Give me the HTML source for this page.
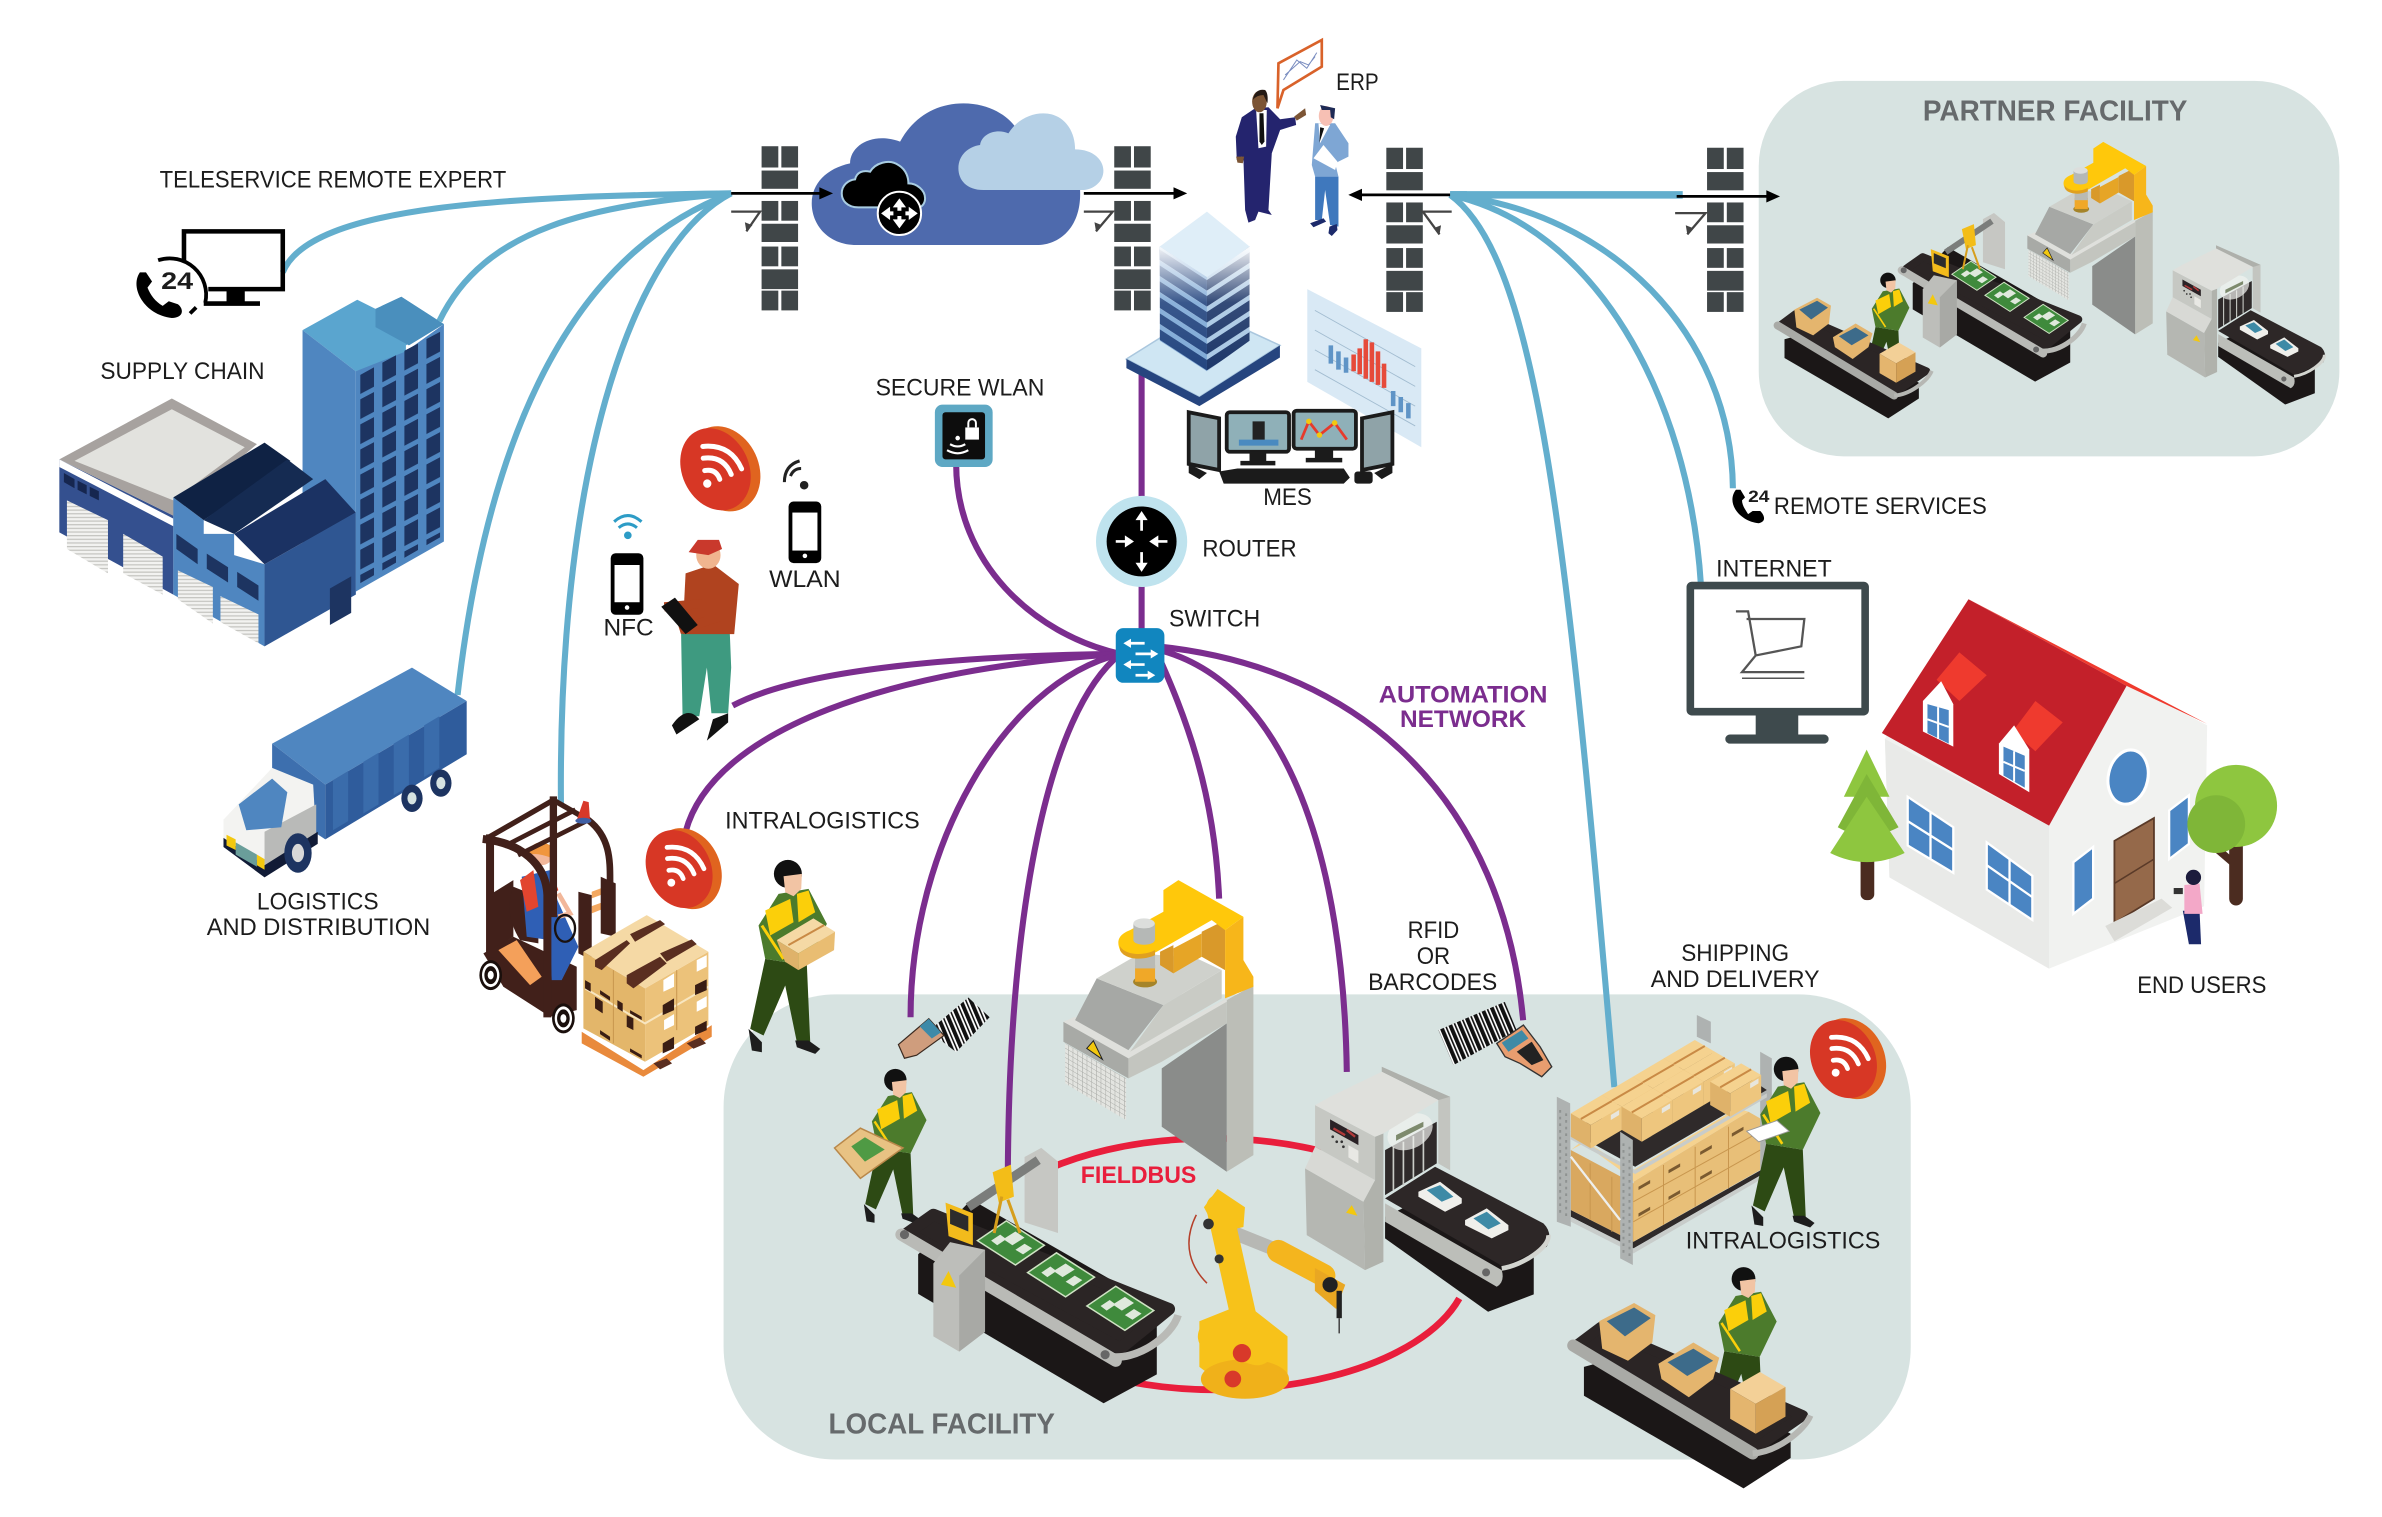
<!DOCTYPE html>
<html><head><meta charset="utf-8"><title>Industrial network</title>
<style>html,body{margin:0;padding:0;background:#fff}svg{display:block}
text{font-family:"Liberation Sans",sans-serif;font-size:16px;fill:#1c1c1c}
.b{font-weight:bold}</style></head><body>
<svg xmlns="http://www.w3.org/2000/svg" width="2382" height="1517" viewBox="0 0 1567 998">
<defs>
<pattern id="win" width="14.5" height="16.5" patternUnits="userSpaceOnUse" patternTransform="translate(238 247) skewY(-28)"><rect width="9" height="13" fill="#1d3461"/></pattern>
<pattern id="slatL" width="10" height="10.5" patternUnits="userSpaceOnUse" patternTransform="translate(764 165) skewY(33)"><rect width="10" height="7" fill="#23457f"/><rect y="7" width="10" height="3.5" fill="#7ea9d6"/></pattern>
<pattern id="slatR" width="10" height="10.5" patternUnits="userSpaceOnUse" patternTransform="translate(795 185) skewY(-33)"><rect width="10" height="7" fill="#1d3769"/><rect y="7" width="10" height="3.5" fill="#a9c8e4"/></pattern>
<pattern id="mesh" width="14" height="14" patternUnits="userSpaceOnUse" patternTransform="skewY(30)"><rect width="14" height="14" fill="#e3e4e0"/><path d="M0 0H14M0 0V14" stroke="#a5a7a3" stroke-width="3"/></pattern>
<pattern id="bar" width="6" height="6" patternUnits="userSpaceOnUse" patternTransform="rotate(-23)"><rect width="6" height="6" fill="#fff"/><rect width="2.6" height="6" fill="#111"/><rect x="3.8" width="1" height="6" fill="#111"/></pattern>
<pattern id="bar2" width="27" height="27" patternUnits="userSpaceOnUse" patternTransform="rotate(-23)"><rect width="27" height="27" fill="#fff"/><rect width="12" height="27" fill="#111"/><rect x="17" width="5" height="27" fill="#111"/></pattern>
<pattern id="shut" width="3" height="2.4" patternUnits="userSpaceOnUse"><rect width="3" height="2.4" fill="#f2f2f0"/><rect width="3" height=".8" fill="#c4c4c0"/></pattern>
<linearGradient id="fade" x1="0" y1="0" x2="0" y2="1"><stop offset="0" stop-color="#fff" stop-opacity=".95"/><stop offset=".45" stop-color="#fff" stop-opacity=".1"/><stop offset="1" stop-color="#fff" stop-opacity="0"/></linearGradient>

<g id="fw" fill="#404648"><rect y="0" width="11" height="14"/><rect x="13" width="11" height="14"/><rect y="16" width="24" height="12"/><rect y="36" width="11" height="13"/><rect x="13" y="36" width="11" height="13"/><rect y="51" width="24" height="12"/><rect y="66" width="11" height="13"/><rect x="13" y="66" width="11" height="13"/><rect y="81" width="24" height="13"/><rect y="95" width="11" height="13"/><rect x="13" y="95" width="11" height="13"/></g>

<g id="wb"><ellipse cx="4" cy="1" rx="23" ry="29" transform="rotate(-25)" fill="#e0641f"/><ellipse cx="-1" cy="-1" rx="22" ry="28" transform="rotate(-25)" fill="#d73725"/>
<g transform="translate(-1 -1) rotate(30) scale(.82)" fill="none" stroke="#fff" stroke-width="4" stroke-linecap="round"><path d="M-7 6Q0 0 7 6"/><path d="M-13 -2Q0 -12 13 -2"/><path d="M-18 -10Q0 -23 18 -10"/><circle cx="0" cy="14" r="2.600" fill="#fff" stroke-width="1.500"/></g></g>

<g id="worker"><g transform="scale(.2193) translate(-958 -300)">
<path d="M890 540L1015 560 1025 790 985 790 950 620 885 770 845 750Z" fill="#2d4a14"/>
<path d="M930 345L1020 330 1075 435 1015 560 890 540 870 440Z" fill="#4c7b2c"/>
<path d="M890 395L965 360 975 430 905 470ZM985 345L1020 335 1040 400 990 430Z" fill="#fbcf0a"/>
<path d="M880 440L945 540" stroke="#fbcf0a" stroke-width="9" fill="none"/>
<circle cx="958" cy="285" r="42" fill="#111"/><path d="M945 292L1000 285 998 330 975 352 950 340Z" fill="#f2c4a4"/>
<path d="M840 750L880 790 880 820 850 815ZM980 785L1020 785 1055 810 1040 825 985 805Z" fill="#1d1d1d"/></g></g>

<g id="boxsm"><path d="M-12 -6L2 -14 14 -7 0 1Z" fill="#f3d097"/><path d="M-12 -6L0 1 0 15-12 8Z" fill="#e4b56e"/><path d="M0 1L14 -7 14 7 0 15Z" fill="#d5a155"/></g>
<g id="pcb"><path d="M-21 -3L-2 -16 23 0 4 13Z" fill="#3f8a3c" stroke="#cfe3c4" stroke-width="1"/><path d="M-4 -4L4 -9 10 -5 2 0ZM4 3L10 -1 15 2 9 6ZM-12 -3L-6 -7-2-4-8 0Z" fill="#dfe9dc"/></g>

<g id="cb"><path d="M0 0L93 -55 153 -20 60 35Z" fill="#f5d28f"/><path d="M0 0L60 35V105L0 70Z" fill="#dfb26a"/><path d="M60 35L153 -20V50L60 105Z" fill="#eec67e"/><path d="M30 17L123 -37" stroke="#c98a45" stroke-width="6"/><path d="M120 5L145 -10V5L120 20Z" fill="#e8e6dd"/></g>

<g id="conv1">
<path d="M605 826V852L727 924 762 905V860L640 790Z" fill="#1b1717"/>
<path d="M615 800L770 862 738 888 598 812Z" fill="#2b2525" stroke="#2b2525" stroke-width="8" stroke-linejoin="round"/>
<path d="M594 813L735 896" stroke="#b9bab6" stroke-width="8" stroke-linecap="round"/>
<path d="M730 893C748 897 772 880 776 866" fill="none" stroke="#b9bab6" stroke-width="5"/>
<circle cx="596" cy="813" r="3" fill="#666"/><circle cx="728" cy="892" r="3" fill="#666"/>
<use href="#pcb" x="665" y="820"/><use href="#pcb" x="698" y="841"/><use href="#pcb" x="737" y="863"/>
<path d="M675 762L686 756 697 765V812L675 805Z" fill="#c6c7c3"/>
<path d="M638 795L684 764" stroke="#7b7d7b" stroke-width="6"/>
<path d="M654 772L666 767 668 788 658 792Z" fill="#f3bd18"/>
<path d="M660 788L655 812M664 790L672 812" stroke="#d69e1c" stroke-width="2"/>
<path d="M615 832L626 818 649 823V877L632 890 615 880Z" fill="#bdbeba"/><path d="M632 840L649 823V877L632 890Z" fill="#a8a9a5"/>
<path d="M623 792L641 799V820L625 814Z" fill="#f2bb1c"/><path d="M626 796L638 801V811L626 806Z" fill="#2c2c2c"/>
<path d="M620 846L625 837 630 848Z" fill="#f3c80f"/>
</g>

<!-- scanner in zoom coordinates -->
<g id="scan"><g transform="translate(684.2 572.4) scale(.2193)">
<path d="M1025 590L1230 680V900L1195 880V690L1025 605Z" fill="#aeb0ab"/>
<path d="M1035 1040V1105L1344 1325 1481 1273V1100L1200 960Z" fill="#1b1717"/>
<path d="M1035 985L1185 890 1510 1060Q1540 1090 1520 1130L1390 1190Z" fill="#2d2727"/>
<path d="M1035 1000L1385 1200Q1395 1235 1370 1250L1035 1055Z" fill="#bcbeb9"/>
<path d="M1385 1195C1450 1185 1530 1130 1525 1095" fill="none" stroke="#d3d5d0" stroke-width="14"/>
<circle cx="1338" cy="1207" r="12" fill="#666"/>
<path d="M1135 965L1200 935 1265 985 1265 1000 1215 1025 1135 980Z" fill="#efefeb"/><path d="M1160 960L1200 945 1240 980 1205 995Z" fill="#3e8aa6"/>
<path d="M1275 1050L1340 1015 1405 1065 1405 1080 1355 1105 1275 1065Z" fill="#efefeb"/><path d="M1300 1045L1340 1025 1382 1060 1345 1078Z" fill="#3e8aa6"/>
<path d="M1035 840L1190 755V880L1035 975Z" fill="#2f2a2a"/>
<path d="M1060 830V960M1090 815V945M1120 798V925M1150 780V905" stroke="#c9cbc6" stroke-width="5"/>
<ellipse cx="1110" cy="785" rx="72" ry="50" transform="rotate(-28 1110 785)" fill="#f1f2ef" opacity=".7"/>
<path d="M1068 795L1150 755V770L1068 812Z" fill="#7d8a6d"/>
<path d="M1195 690L1230 680V900L1195 880Z" fill="#c3c5c0"/>
<path d="M795 895L970 995 975 1200 800 1095Z" fill="#b5b7b2"/>
<path d="M825 830L1005 930 970 995 795 895Z" fill="#d8d9d5"/>
<path d="M825 705L1005 800V930L825 830Z" fill="#c6c8c3"/>
<path d="M1005 800L1030 790V1175L975 1200 970 995 1005 930Z" fill="#b0b2ac"/>
<path d="M870 680L1025 605 1195 690 1030 790 1005 800 825 705Z" fill="#dfe0dc"/>
<path d="M870 748L955 795V825L870 778Z" fill="#2a2226"/>
<path d="M880 775L915 795M920 780L945 800" stroke="#b23a3a" stroke-width="7"/>
<path d="M925 825L955 842V880L925 862Z" fill="#e8e8e4"/>
<circle cx="878" cy="800" r="4" fill="#333"/><circle cx="905" cy="815" r="4" fill="#333"/><circle cx="890" cy="815" r="4" fill="#333"/><circle cx="910" cy="830" r="4" fill="#333"/>
<path d="M918 1028L935 1005 952 1037Z" fill="#f3c80f"/>
</g></g>

<!-- gantry in zoom coordinates -->
<g id="gant"><g transform="translate(684.2 572.4) scale(.2193)">
<path d="M560 390L640 345V855L560 905Z" fill="#bcbeb7"/>
<path d="M365 595L560 460V905L365 770Z" fill="#8a8c8a"/>
<path d="M265 545L560 385V460L365 575 265 625Z" fill="#c3c5bf"/>
<path d="M70 455L265 560V625L70 515Z" fill="#a8aaa6"/>
<path d="M75 520L258 625V750L75 640Z" fill="url(#mesh)"/>
<path d="M70 455L105 440 265 540 560 385V395L265 565Z" fill="#dfe0dc"/>
<path d="M170 325L105 450 265 540 370 405Z" fill="#a6a8a5"/>
<path d="M370 405L545 300V385L270 545Z" fill="#c9cbc5"/>
<path d="M170 325L300 250 470 265 545 300 370 405Z" fill="#cfd1cc"/>
<path d="M140 535L160 512 187 568Z" fill="#f3c80f" stroke="#222" stroke-width="3"/>
<ellipse cx="315" cy="335" rx="36" ry="17" fill="#a58429"/><rect x="285" y="285" width="60" height="50" fill="#f0a828"/><rect x="285" y="255" width="60" height="40" fill="#b9bab4"/>
<path d="M400 235L485 190V260L400 310Z" fill="#e6a526"/><path d="M360 245L400 225V310L360 285Z" fill="#d9992a"/>
<path d="M485 185L555 150V300L485 260Z" fill="#d9992a"/>
<path d="M555 180L610 140V270L640 320V350L555 385Z" fill="#f7b61a"/>
<path d="M240 240C225 205 245 190 270 180L370 125V60L415 30 610 140 555 180 515 150 350 245C310 265 255 265 240 240Z" fill="#ffc80b"/>
<path d="M240 228C250 250 300 262 345 240V255C300 275 250 265 240 240Z" fill="#e0a020"/>
<rect x="280" y="160" width="65" height="50" fill="#b5b8b6"/><ellipse cx="312" cy="210" rx="32" ry="14" fill="#b5b8b6"/><ellipse cx="312" cy="160" rx="32" ry="15" fill="#dcdedc"/>
</g></g>

<g id="pack">
<path d="M1043 900V919L1148 980 1179 960V944L1080 890Z" fill="#1b1717"/>
<path d="M1054 874L1187 932 1154 955 1038 886Z" fill="#2b2525" stroke="#2b2525" stroke-width="7" stroke-linejoin="round"/>
<path d="M1036 886L1154 957" stroke="#a9aaa6" stroke-width="8" stroke-linecap="round"/>
<path d="M1154 957C1170 956 1188 942 1192 932" fill="none" stroke="#b6b7b3" stroke-width="4"/>
<path d="M1053 870L1076 858 1090 866 1088 884 1072 896 1055 888Z" fill="#e4b56e"/><path d="M1058 870L1076 861 1087 868 1070 880Z" fill="#3d6b8a"/>
<path d="M1092 898L1115 884 1132 894 1128 908 1112 920 1094 908Z" fill="#e4b56e"/><path d="M1098 897L1115 888 1128 896 1111 906Z" fill="#3d6b8a"/>
<use href="#boxsm" transform="translate(1156 923) scale(1.4)"/>
</g>
</defs>

<rect width="1567" height="998" fill="#fff"/>
<g transform="translate(-1 -.8)">
<rect x="1158" y="54" width="382" height="247" rx="56" fill="#d7e3e1"/>
<rect x="477" y="655" width="781" height="306" rx="74" fill="#d7e3e1"/>

<!-- red ring -->
<g fill="none" stroke="#e91e3c" stroke-width="4.400"><path d="M690 770A165 83 0 0 1 870 758"/><path d="M961 855A165 83 0 0 1 745 910"/></g>

<!-- blue links -->
<g fill="none" stroke="#63aecd" stroke-width="4">
<path d="M482 128C340 130 205 135 187 180"/>
<path d="M482 128C390 136 320 150 290 212"/>
<path d="M482 128C370 170 320 300 302 458"/>
<path d="M482 128C420 160 368 300 370 530"/>
<path d="M955 129C1012 170 1032 350 1063 716"/>
<path d="M955 129C1050 150 1112 260 1120 386"/>
<path d="M955 129C1060 140 1140 220 1141 322"/>
<path d="M955 129H1108" stroke-width="5"/>
</g>
<!-- purple links -->
<g fill="none" stroke="#7b2d8e" stroke-width="4">
<path d="M630 306C630 370 680 418 738 431"/>
<path d="M483 465C530 440 640 432 738 431"/>
<path d="M452 548C470 480 590 440 738 431"/>
<path d="M600 670C600 560 660 450 738 431"/>
<path d="M664 772C665 600 690 470 738 431"/>
<path d="M803 592C800 520 780 470 762 430"/>
<path d="M887 706C885 570 850 450 762 428"/>
<path d="M1003 672C990 530 900 440 762 426"/>
<path d="M752 245V415"/>
</g>

<!-- firewalls and arrows -->
<use href="#fw" x="502" y="97"/><use href="#fw" x="734" y="97"/><use href="#fw" x="913" y="98"/><use href="#fw" x="1124" y="98"/>

<!-- cloud -->
<g transform="translate(501 66.600) scale(.2193)">
<path d="M290 435C200 435 155 370 155 310 155 250 200 205 270 190 270 135 340 95 420 125 460 50 530 10 610 10 690 10 745 50 765 80L960 270C965 380 900 435 830 435Z" fill="#4e6aad"/>
<path d="M670 270C620 270 595 240 595 205 595 165 625 140 660 135 665 100 710 85 745 100 770 60 810 40 850 40 910 40 945 90 945 148 1000 148 1030 180 1030 212 1030 245 1000 270 965 270Z" fill="#b5d0e6"/>
<path d="M295 322C260 322 245 300 245 280 245 255 265 240 285 238 290 215 310 210 330 215 345 190 385 175 415 195 440 210 445 235 445 250 470 250 495 270 495 295 495 310 485 322 475 322Z" fill="#000" stroke="#a9cde2" stroke-width="6"/>
<circle cx="418" cy="340" r="65" fill="#000" stroke="#fff" stroke-width="6"/>
<path d="M418 295L398 322H412V332H424V322H438ZM418 385L398 358H412V348H424V358H438ZM363 340L390 320V334H400V346H390V360ZM473 340L446 320V334H436V346H446V360Z" fill="#fff"/>
</g>

<g fill="none" stroke="#000" stroke-width="1.800">
<path d="M482 128H543"/><path d="M714 128H776"/><path d="M955 129H895"/><path d="M1104 130H1166"/></g>
<path d="M549 128L540 124V132ZM782 128L773 124V132ZM888 129L897 125V133ZM1172 130L1163 126V134Z" fill="#000"/>
<g fill="none" stroke="#444" stroke-width="1.500"><path d="M482 140H501L492 153"/><path d="M714 140H733L722 153"/><path d="M956 140H937L948 155"/><path d="M1103 141H1123L1111 155"/></g>
<path d="M492 153L491 147 496 149ZM722 153L721 147 726 149ZM948 155L949 149 944 151ZM1111 155L1110 149 1115 151Z" fill="#444"/>
<path d="M955 129H966" stroke="#63aecd" stroke-width="5"/>

<!-- teleservice icon -->
<path d="M122 173V153H187V191H138" fill="none" stroke="#000" stroke-width="3"/>
<path d="M150 192H162V199H172V202H135V199H150Z" fill="#000"/>
<path d="M105 172A24 24 0 0 1 136 200M130 203L126 207" fill="none" stroke="#000" stroke-width="2.500"/>
<text x="107" y="191" class="b" textLength="21" lengthAdjust="spacingAndGlyphs" style="font-size:16px">24</text>
<path d="M93 180C86 190 96 208 114 210 122 210 122 204 118 201L112 199 108 202C103 199 100 195 98 190L101 186 97 180Z" fill="#000"/>

<!-- tower -->
<path d="M200 218L236 198 248 204 265 196 293 214 268 228 268 235 235 245Z" fill="#5aa5cf"/>
<path d="M248 204L265 196 293 214 270 228 248 216Z" fill="#4a8fbd"/>
<path d="M200 218L235 245V392L200 370Z" fill="#4f86c0"/>
<path d="M235 245L268 232 293 214V357L235 390Z" fill="#4f86c0"/>
<path d="M237 248L291 218V354L237 385Z" fill="url(#win)"/>
<!-- warehouse -->
<path d="M40 303L115 340V392L40 351Z" fill="#34508f"/>
<path d="M40 303L114 263 170 293 115 340Z" fill="#a7a29f"/>
<path d="M50 304L114 270 162 295 115 330Z" fill="#e2e2de"/>
<path d="M40 303L115 342 115 347 40 308Z" fill="#fff"/>
<path d="M45 330L72 343V378L45 362ZM82 352L108 367V392L82 378Z" fill="url(#shut)"/>
<path d="M43 312L50 316V322L43 318ZM52 317L58 320V326L52 323ZM60 321L66 324V330L60 327Z" fill="#16264f"/>
<path d="M115 328L135 343V352L155 352V366L175 372V426L115 392Z" fill="#4f86c0"/>
<path d="M118 376L141 387V411L118 395ZM146 393L171 405V424L146 410Z" fill="url(#shut)"/>
<path d="M117 352L131 362V372L117 362ZM137 365L151 374V384L137 375ZM157 377L171 386V396L157 387Z" fill="#1d3461"/>
<path d="M175 372L235 338V392L175 426Z" fill="#2f5692"/>
<path d="M218 388L232 380V404L218 412Z" fill="#1d3461"/>
<path d="M115 328L175 292 192 304 135 343Z" fill="#0f2244"/>
<path d="M135 343L190 303 207 316 155 352Z" fill="#152b52"/>
<path d="M155 352L215 316 235 338 175 372Z" fill="#1b3263"/>

<!-- truck -->
<path d="M180 490L272 440 308 462 215 517Z" fill="#4f86c0"/>
<path d="M180 490L215 517V553L180 530Z" fill="#3d6fae"/>
<path d="M215 517L308 462V497L215 553Z" fill="#2f5c9c"/>
<path d="M220 514L230 508V541L220 547ZM240 502L250 496V530L240 536ZM260 490L270 484V518L260 524ZM280 478L290 472V506L280 512Z" fill="#3a6cab"/>
<ellipse cx="272" cy="526" rx="7" ry="9" fill="#1d3461"/><ellipse cx="272" cy="526" rx="3" ry="4" fill="#d7e3e1"/><ellipse cx="291" cy="516" rx="7" ry="9" fill="#1d3461"/><ellipse cx="291" cy="516" rx="3" ry="4" fill="#d7e3e1"/>
<path d="M148 540L180 506 207 517 209 552 175 576 148 556Z" fill="#f3f3f1"/>
<path d="M175 548L209 530V552L175 576Z" fill="#b9bab8"/>
<path d="M158 530L180 513 190 522 186 545 163 547Z" fill="#4f86c0"/>
<path d="M148 552L175 570 210 548 210 556 175 578 148 558Z" fill="#111b36"/>
<path d="M156 555L170 563V571L156 563Z" fill="#6a9e9a"/><path d="M150 550L156 553V560L150 557ZM170 563L175 566V573L170 570Z" fill="#f3c80f"/>
<ellipse cx="197" cy="562" rx="9" ry="13" fill="#1d3461"/><ellipse cx="197" cy="562" rx="4" ry="6" fill="#d8d8d8"/>

<!-- forklift and worker, zoom coordinates -->
<g transform="translate(310.200 514) scale(.2193)">
<path d="M50 350L130 300V470L50 520Z" fill="#41201a"/>
<path d="M40 520L130 470 320 560V690L240 710 100 620Z" fill="#41201a"/>
<path d="M85 510L140 480 215 590 180 615Z" fill="#f4a05a"/>
<path d="M130 320Q100 400 150 480L205 490V350Z" fill="#41201a"/>
<path d="M155 290L240 270 262 360 325 500 275 600 245 600 240 480 170 470Z" fill="#2f5fb5"/>
<path d="M150 300L190 270 205 380 170 395ZM240 265L265 330 245 345Z" fill="#e2452f"/>
<path d="M265 340L300 400 265 410" fill="none" stroke="#f2b79a" stroke-width="14"/>
<ellipse cx="215" cy="225" rx="33" ry="30" fill="#f2b79a"/><path d="M170 225Q190 170 240 195L248 235Q200 215 170 225Z" fill="#f0963e"/>
<g fill="none" stroke="#1a1210" stroke-width="7"><ellipse cx="285" cy="445" rx="30" ry="40"/></g>
<g fill="none" stroke="#41201a" stroke-linecap="square">
<path d="M60 175V520" stroke-width="24"/>
<path d="M50 175L250 60 355 120" stroke-width="16"/>
<path d="M110 195L310 92M150 222L345 125" stroke-width="14"/>
<path d="M250 60V400" stroke-width="22"/>
<path d="M50 178C150 190 228 250 232 345V700" stroke-width="24"/>
<path d="M355 120C420 170 420 240 420 300" stroke-width="20"/></g>
<path d="M365 335L410 318V338L365 355ZM365 378L410 362V382L365 400Z" fill="#f4a860"/>
<path d="M325 335L365 345V540L325 520ZM392 290L437 310V470L392 460Z" fill="#41201a"/>
<path d="M320 120L340 62 356 66 360 120Q340 132 320 120Z" fill="#d8392a"/><ellipse cx="340" cy="122" rx="24" ry="9" fill="#3f5fa5"/>
<g><ellipse cx="62" cy="585" rx="34" ry="45" fill="#1a0f0c"/><ellipse cx="62" cy="585" rx="26" ry="36" fill="#fff"/><ellipse cx="62" cy="585" rx="19" ry="27" fill="#1a0f0c"/><ellipse cx="62" cy="585" rx="9" ry="13" fill="#fff"/></g>
<g><ellipse cx="280" cy="715" rx="34" ry="45" fill="#1a0f0c"/><ellipse cx="280" cy="715" rx="26" ry="36" fill="#fff"/><ellipse cx="280" cy="715" rx="19" ry="27" fill="#1a0f0c"/><ellipse cx="280" cy="715" rx="9" ry="13" fill="#fff"/></g>
<!-- pallet -->
<path d="M335 755L520 870 725 735V770L520 890 335 790Z" fill="#e98a3c"/>
<path d="M550 850L590 835 606 850 570 868ZM650 790L690 772 708 790 670 806Z" fill="#5a2e20"/>
<path d="M340 515L525 625V845L340 745Z" fill="#e3b66a"/>
<path d="M525 625L715 515V735L525 845Z" fill="#ecc27a"/>
<path d="M340 515L530 405 715 515 525 625Z" fill="#f5d9a5"/>
<path d="M345 625L525 730 715 620" fill="none" stroke="#f8e6c0" stroke-width="6"/>
<path d="M430 570V790M620 570V750" stroke="#c8964e" stroke-width="3"/>
<path d="M375 540L470 480 480 490 395 570 375 560ZM470 585L570 530 590 550 490 625 470 610ZM480 462L570 420 585 432 495 485ZM570 520L665 478 680 492 590 545Z" fill="#5a2e20"/>
<path d="M580 600L612 580V620L580 635ZM680 540L710 525V560L680 575ZM582 720L612 702V735L582 750ZM680 665L710 648V680L680 695Z" fill="#fff"/>
<path d="M578 675L612 655V690L578 705ZM675 615L710 598V630L675 645ZM578 790L612 770V805L578 820ZM675 740L710 722V750L675 765Z" fill="#3a1d14"/>
<path d="M375 650L398 665V700L375 685ZM442 660L458 670V695L442 685ZM470 705L490 715V750L470 740ZM345 600L362 610V635L345 625ZM390 630L420 650V662L390 642ZM390 750L420 770V782L390 762ZM480 690L515 710V720L480 700ZM480 805L515 825V835L480 815Z" fill="#3a1d14"/>
</g>

<!-- wifi badges -->
<use href="#wb" x="473" y="310"/><use href="#wb" transform="translate(449 573) scale(.95)"/><use href="#wb" transform="translate(1215 698) scale(.95)"/>

<!-- phones + wifi -->
<rect x="404" y="366" width="19" height="38" rx="2" fill="#fff" stroke="#000" stroke-width="2.500"/><rect x="404" y="372" width="19" height="26" fill="none" stroke="#000" stroke-width="1"/><rect x="404" y="397" width="19" height="7" fill="#000"/><circle cx="413.500" cy="400.500" r="1.500" fill="#fff"/><rect x="404" y="366" width="19" height="6" fill="#000"/>
<rect x="521" y="332" width="19" height="38" rx="2" fill="#fff" stroke="#000" stroke-width="2.500"/><rect x="521" y="363" width="19" height="7" fill="#000"/><circle cx="530.500" cy="366.500" r="1.500" fill="#fff"/><rect x="521" y="332" width="19" height="6" fill="#000"/>
<g fill="none" stroke="#2d9cc6" stroke-width="2"><path d="M408 348Q414 343 420 348"/><path d="M405 344Q414 336 423 344"/><circle cx="414" cy="353" r="1.500" fill="#2d9cc6"/></g>
<g fill="none" stroke="#222" stroke-width="2"><path d="M521 314Q523 309 528 309"/><path d="M517 318Q517 307 527 304"/><circle cx="530" cy="320" r="1.800" fill="#222"/></g>

<!-- red cap worker -->
<path d="M449 415L481 415 482 440 480 470H469L466 440 461 472H450Z" fill="#3e9a80"/>
<path d="M452 378L470 372 487 385 484 418H450Z" fill="#b0431f"/>
<path d="M438 400L462 398 470 408 448 415" fill="none" stroke="#b0431f" stroke-width="6"/>
<ellipse cx="467" cy="366" rx="8" ry="9" fill="#f0b58f"/><path d="M454 364L460 356H474L476 362 467 366Z" fill="#c9392c"/>
<path d="M436 400L445 394 460 412 452 418Z" fill="#111"/>
<path d="M443 478C450 468 456 468 461 474L446 484ZM466 488L480 476V470L470 474Z" fill="#111"/>

<!-- secure wlan -->
<rect x="616" y="267" width="38" height="41" rx="5" fill="#5ea8c4"/><rect x="621" y="272" width="28" height="31" rx="2" fill="#0d0d0d"/>
<rect x="636" y="282" width="9" height="8" fill="#fff"/><path d="M638 282V279A2.500 2.500 0 0 1 643 279V282" fill="none" stroke="#fff" stroke-width="1.300"/>
<path d="M624 297Q631 301 638 297M626 293Q631 296 636 293" fill="none" stroke="#fff" stroke-width="1.400"/><circle cx="631" cy="289" r="1.500" fill="#fff"/>

<!-- server -->
<path d="M742 237L793 205 843 228 790 262Z" fill="#cfe6f3" stroke="#aac7de" stroke-width="1"/>
<path d="M742 237L790 262 843 228V236L790 268 742 243Z" fill="#26457f"/>
<path d="M764 163L795 183V245L764 225Z" fill="url(#slatL)"/>
<path d="M795 183L823 163V225L795 245Z" fill="url(#slatR)"/>
<path d="M764 163L795 183V245L764 225ZM795 183L823 163V225L795 245Z" fill="url(#fade)"/>
<path d="M764 163L795 140 823 163 795 183Z" fill="#dfeef8"/>

<!-- chart -->
<path d="M861 191L936 230V295L861 252Z" fill="#d9e9f5"/>
<g stroke="#a2bcd0" stroke-width=".6"><path d="M866 205L932 242M866 218L932 255M866 231L932 268M866 244L932 281"/></g>
<path d="M875 228H878V240H875ZM880 232H883V244H880ZM885 236H888V246H885ZM916 258H919V268H916ZM921 262H924V272H921ZM926 266H929V276H926Z" fill="#5f94c6"/>
<path d="M890 234H893V245H890ZM894 230H897V247H894ZM898 224H901V250H898ZM902 226H905V252H902ZM906 232H909V254H906ZM910 240H913V256H910Z" fill="#e64a3a"/>

<!-- monitors -->
<path d="M783 272L803 276V310L783 306Z" fill="#8fa3a8" stroke="#1b1b1b" stroke-width="2.500"/>
<path d="M897 276L917 272V306L897 310Z" fill="#8fa3a8" stroke="#1b1b1b" stroke-width="2.500"/>
<rect x="808" y="272" width="41" height="26" rx="2" fill="#8fb0b8" stroke="#1b1b1b" stroke-width="2.500"/>
<rect x="852" y="271" width="41" height="25" rx="2" fill="#8fb0b8" stroke="#1b1b1b" stroke-width="2.500"/>
<path d="M823 298H834V304H840V307H817V304H823ZM866 296H878V302H884V305H860V302H866Z" fill="#1b1b1b"/>
<path d="M816 290H842V294H816Z" fill="#4a8ac0"/><path d="M825 278H833V290H825Z" fill="#222"/>
<path d="M857 290L862 278 869 287 879 279 887 290" fill="none" stroke="#e63a2c" stroke-width="1.800"/>
<circle cx="862" cy="278" r="1.800" fill="#f3c80f"/><circle cx="869" cy="287" r="1.800" fill="#f3c80f"/><circle cx="879" cy="279" r="1.800" fill="#f3c80f"/>
<path d="M803 311L815 309H885L889 315 885 319H806Z" fill="#1b1b1b"/><rect x="892" y="311" width="12" height="8" rx="2" fill="#1b1b1b"/>
<path d="M783 306L795 312 790 316 783 312ZM917 306L905 312 910 316 917 312Z" fill="#1b1b1b"/>

<!-- ERP people, zoom coordinates -->
<g transform="translate(790.500 20.500) scale(.2193)">
<path d="M235 100L365 30V110L250 180 232 235Z" fill="#fff" stroke="#d9622a" stroke-width="8"/>
<path d="M250 150L290 90 320 115 350 68M255 135L300 95 325 105 345 80" fill="none" stroke="#7a8dc0" stroke-width="3"/>
<path d="M165 235L205 232 240 268 285 262 288 285 240 300 215 370 205 540 215 555 175 545 165 570 145 578 135 540 130 390 125 380 110 390 107 320 125 262Z" fill="#24246e"/>
<path d="M168 240L200 240 198 350 175 355Z" fill="#fff"/><path d="M178 250L190 250 193 335 185 345 178 335Z" fill="#111"/>
<ellipse cx="178" cy="215" rx="22" ry="32" fill="#7c5535"/><path d="M158 210Q165 175 195 180 205 190 202 220L190 195Q170 195 158 210Z" fill="#241a15"/>
<path d="M282 260L315 235 318 255 290 272ZM108 380L132 380 128 400 112 398Z" fill="#7c5535"/>
<path d="M345 280L405 280 445 340 445 380 405 400 415 440 345 440 335 405Z" fill="#7ea6d4"/>
<path d="M345 440L415 440 415 590 390 585 375 480 365 570 345 570Z" fill="#3f78bd"/>
<path d="M330 580L370 565 378 575 340 592ZM388 590L410 582 412 600 395 618 385 610Z" fill="#1c2a6b"/>
<path d="M355 280L390 285 360 340Z" fill="#fff"/><path d="M360 292L372 295 358 338Z" fill="#111"/>
<ellipse cx="378" cy="258" rx="22" ry="30" fill="#f7c0b4"/><path d="M360 225L405 235 402 268 392 262 390 240 365 240Z" fill="#1e2a55"/>
<path d="M340 385L370 345 412 395 405 420Z" fill="#fff"/>
</g>

<!-- router, switch -->
<circle cx="752" cy="357" r="30" fill="#bfe3ee"/><circle cx="752" cy="357" r="23" fill="#000"/>
<g stroke="#fff" stroke-width="1.800" fill="none"><path d="M752 340V350M752 364V374M735 357H745M759 357H769"/></g>
<path d="M752 337L748 343H756ZM752 377L748 371H756ZM747 357L741 353V361ZM757 357L763 353V361Z" fill="#fff"/>
<rect x="735" y="414" width="32" height="36" rx="5" fill="#1186bf"/>
<g stroke="#fff" stroke-width="1.800"><path d="M742 424H754M748 431H761M742 438H754M748 445H759"/></g>
<path d="M740 424L745 421V427ZM763 431L758 428V434ZM740 438L745 435V441ZM761 445L756 442V448Z" fill="#fff"/>

<!-- internet monitor -->
<rect x="1113" y="386" width="115" height="83" fill="#fff" stroke="#3e4a4d" stroke-width="5" rx="1"/>
<path d="M1156 471H1184V485H1156Z" fill="#3e4a4d"/><rect x="1136" y="484" width="68" height="6" rx="3" fill="#3e4a4d"/>
<path d="M1143 403H1151L1156 432 1186 426 1188 408H1150M1156 432L1147 443H1188" fill="none" stroke="#555" stroke-width="1.500"/><path d="M1147 447H1188" stroke="#555"/>

<!-- remote services icon -->
<path d="M1143 323C1136 332 1146 344 1158 345 1163 344 1162 340 1159 337L1154 337 1151 339C1149 336 1147 333 1147 330L1149 328 1146 323Z" fill="#000"/>
<text x="1151" y="331" class="b" textLength="14" lengthAdjust="spacingAndGlyphs" style="font-size:11px">24</text>

<!-- house -->
<path d="M1296 395L1453 478 1451 597 1349 638 1244 578 1241 487Z" fill="#f1f2f0"/>
<path d="M1241 487L1349 544V638L1244 578Z" fill="#e9eae8"/>
<path d="M1296 395L1453 477 1400 452Z" fill="#ef3a2e"/>
<path d="M1296 395L1400 452 1349 544 1239 483Z" fill="#c3202a"/>
<path d="M1275 448L1290 430 1308 445 1290 462Z" fill="#ef3a2e"/><path d="M1325 482L1340 462 1358 476 1340 495Z" fill="#ef3a2e"/>
<path d="M1266 462L1278 449 1286 464V492L1266 482Z" fill="#fff"/>
<path d="M1269 464L1283 468V490L1269 483Z" fill="#4a85c3"/><path d="M1276 466V487M1269 474L1283 479" stroke="#fff" stroke-width="1.300"/>
<path d="M1316 490L1326 478 1336 494V522L1316 510Z" fill="#fff"/>
<path d="M1319 492L1333 498V519L1319 511Z" fill="#4a85c3"/><path d="M1326 495V515M1319 502L1333 508" stroke="#fff" stroke-width="1.300"/>
<ellipse cx="1401" cy="512" rx="13" ry="18" transform="rotate(12 1401 512)" fill="#4a85c3" stroke="#fff" stroke-width="2"/>
<g fill="#4a85c3" stroke="#fff" stroke-width="1.500"><path d="M1256 525L1286 545V575L1256 557Z"/><path d="M1308 555L1338 577V606L1308 586Z"/><path d="M1365 568L1378 558V592L1365 602Z"/><path d="M1428 534L1441 524V556L1428 566Z"/></g>
<path d="M1271 535V566M1256 541L1286 560M1323 566V596M1308 570L1338 591" stroke="#fff" stroke-width="1.500"/>
<path d="M1392 554L1418 539V592L1392 608Z" fill="#95694a" stroke="#5a3a28" stroke-width="1.200"/><path d="M1392 582L1418 566" stroke="#5a3a28"/>
<path d="M1386 610L1423 592 1430 598 1392 620Z" fill="#dcdcd8"/>
<!-- trees -->
<rect x="1225" y="560" width="9" height="33" rx="4" fill="#4b2c20"/>
<path d="M1229 494L1244 525H1214Z" fill="#8ec63f"/><path d="M1229 510L1250 545Q1229 556 1210 545Z" fill="#7fb638"/><path d="M1229 525L1254 562Q1229 574 1205 562Z" fill="#8ec63f"/>
<path d="M1472 545V592" stroke="#4b2c20" stroke-width="9" stroke-linecap="round"/><path d="M1472 570L1458 558" stroke="#4b2c20" stroke-width="5"/>
<circle cx="1472" cy="531" r="27" fill="#8ec63f"/><circle cx="1459" cy="543" r="19" fill="#7fb638"/>
<!-- woman -->
<path d="M1437 600L1448 600 1449 622H1441Z" fill="#1c2a6b"/><path d="M1438 583L1448 582 1450 602H1438Z" fill="#f3a8c8"/><circle cx="1444" cy="578" r="5" fill="#1c1c3c"/><rect x="1431" y="585" width="6" height="4" fill="#333"/>

<!-- local facility machinery -->
<use href="#worker" transform="translate(590 714) scale(.8)"/>
<path d="M550 756L567 743 595 756 567 776Z" fill="#e8c283" stroke="#b9884a"/><path d="M561 755L570 749 583 757 570 765Z" fill="#4f9a44"/>
<use href="#worker" transform="translate(519.300 579)"/>
<g transform="translate(310.200 514) scale(.2193)"><path d="M920 480L1030 415 1095 455 985 520Z" fill="#f5d9a5"/><path d="M920 480L985 520V570L945 545Z" fill="#dfb26a"/><path d="M985 520L1095 455 1092 510 985 570Z" fill="#e9bd72"/><path d="M955 495L1062 435" stroke="#c98a45" stroke-width="6"/></g>

<use href="#conv1"/>
<use href="#gant" x="1" y=".8"/>
<use href="#scan" x="1" y=".8"/>

<!-- robot arm -->
<path d="M790 870L820 858 848 880V905L818 921 790 900Z" fill="#f7c21a"/>
<ellipse cx="820" cy="908" rx="29" ry="13" fill="#f0b11a"/>
<g fill="none" stroke-linecap="round" stroke-linejoin="round">
<path d="M808 810L848 826" stroke="#b7b8b4" stroke-width="9"/>
<path d="M842 824L872 840" stroke="#f4b51e" stroke-width="15"/>
<path d="M822 880L803 795" stroke="#f7c21a" stroke-width="17"/>
<path d="M800 880L828 888" stroke="#f7c21a" stroke-width="22"/></g>
<path d="M793 795L802 783 820 795 819 808 802 812Z" fill="#f7c21a"/>
<path d="M866 835L886 846 880 862 866 850Z" fill="#e9a722"/><circle cx="876" cy="846" r="5" fill="#222"/>
<path d="M882 850V868" stroke="#222" stroke-width="3.500"/><path d="M882 868V878" stroke="#444"/>
<circle cx="818" cy="891" r="6" fill="#d8392a"/><circle cx="812" cy="908" r="5.500" fill="#d8392a"/><circle cx="796" cy="806" r="3.500" fill="#333"/><circle cx="803" cy="829" r="3" fill="#333"/>
<path d="M788 800C778 820 785 835 795 845" fill="none" stroke="#b5402a"/>

<!-- barcodes -->
<path d="M612 679L638 657 652 670 630 693Z" fill="url(#bar)"/>
<path d="M592 688L612 671 622 682 604 695 596 697Z" fill="#cf9d7d" stroke="#3b2a20" stroke-width=".8"/><path d="M606 676L612 671 620 680 614 684Z" fill="#3d8aa8"/>
<g transform="translate(685.200 573.200) scale(.2193)">
<path d="M1195 480L1395 395 1430 480 1240 585Z" fill="url(#bar2)"/>
<path d="M1370 520L1450 465 1500 530 1535 590 1505 620 1440 580 1395 560Z" fill="#e89d6f" stroke="#333" stroke-width="4"/>
<path d="M1385 518L1445 480 1465 505 1405 545Z" fill="#3e8aa6"/><path d="M1430 545L1475 515 1510 570 1475 585Z" fill="#222"/>
</g>

<!-- shelf, zoom coordinates -->
<g transform="translate(1014.200 658.700) scale(.2193)">
<path d="M470 45L512 65V130L470 110ZM660 155L695 175V510L660 520Z" fill="#aeb2b1"/>
<path d="M92 630L280 725 680 500V515L280 745 92 650Z" fill="#2f2a2a"/>
<path d="M92 650L280 745 680 515V528L280 760 92 665Z" fill="#c8ccca"/>
<path d="M92 450L280 550V725L92 630Z" fill="#d9a85f"/>
<path d="M280 545L625 335 660 355V510L280 725Z" fill="#e8bf78"/>
<path d="M92 450L130 430 240 510 280 545 625 335 590 325 280 510 240 490 130 420Z" fill="#f5d28f"/>
<path d="M280 605L660 395M280 665L660 450M370 495V675M465 440V620M565 380V565M150 490V660M215 530V695" stroke="#c8964e" stroke-width="3" fill="none"/>
<path d="M295 560L330 540V550L295 570ZM385 510L420 490V500L385 520ZM480 455L515 435V445L480 465ZM575 400L610 380V390L575 410ZM295 640L330 620V630L295 650ZM385 590L420 570V580L385 600ZM480 530L515 510V520L480 540Z" fill="#7a5a30"/>
<path d="M92 395L285 500 680 270 500 150Z" fill="#2f2a2a"/>
<path d="M92 405L285 510 680 280V292L285 522 92 418Z" fill="#c8ccca"/>
<use href="#cb" x="371" y="175"/><use href="#cb" x="278" y="230"/><use href="#cb" x="185" y="285"/><use href="#cb" x="92" y="340"/>
<use href="#cb" x="431" y="210"/><use href="#cb" x="338" y="265"/><use href="#cb" x="245" y="320"/>
<use href="#cb" x="510" y="245"/>
<path d="M50 290L90 310 92 680 50 665ZM240 395L278 420V795L240 775Z" fill="#aeb2b1"/>
<path d="M92 470L240 660" stroke="#eeefed" stroke-width="7"/>
<path d="M60 330V650M78 340V660M250 430V760M268 440V770" stroke="#8f9392" stroke-width="6" stroke-dasharray="8 12"/>
</g>

<use href="#worker" transform="translate(1176 707) scale(.88)"/>
<path d="M1150 745L1170 738 1178 745 1158 752Z" fill="#fff" stroke="#999" stroke-width=".6"/>
<use href="#worker" transform="translate(1148 845) scale(.85)"/>
<use href="#pack"/>

<!-- partner facility machinery -->
<use href="#gant" transform="translate(873 -288) scale(.66)"/>
<use href="#conv1" transform="translate(860 -358) scale(.66)"/>
<use href="#worker" transform="translate(1243 187) scale(.55)"/>
<use href="#pack" transform="translate(497 -361) scale(.65)"/>
<use href="#scan" transform="translate(868 -294) scale(.65)"/>

<!-- labels -->
<text x="106" y="124" textLength="228" lengthAdjust="spacingAndGlyphs">TELESERVICE REMOTE EXPERT</text>
<text x="67" y="250" textLength="108" lengthAdjust="spacingAndGlyphs">SUPPLY CHAIN</text>
<text x="577" y="261" textLength="111" lengthAdjust="spacingAndGlyphs">SECURE WLAN</text>
<text x="880" y="60" textLength="28" lengthAdjust="spacingAndGlyphs">ERP</text>
<text x="1266" y="80" class="b" textLength="174" lengthAdjust="spacingAndGlyphs" style="font-size:19px;fill:#666a6c">PARTNER FACILITY</text>
<text x="832" y="333" textLength="32" lengthAdjust="spacingAndGlyphs">MES</text>
<text x="792" y="367" textLength="62" lengthAdjust="spacingAndGlyphs">ROUTER</text>
<text x="770" y="413" textLength="60" lengthAdjust="spacingAndGlyphs">SWITCH</text>
<text x="1168" y="339" textLength="140" lengthAdjust="spacingAndGlyphs">REMOTE SERVICES</text>
<text x="1130" y="380" textLength="76" lengthAdjust="spacingAndGlyphs">INTERNET</text>
<text x="398" y="419" textLength="33" lengthAdjust="spacingAndGlyphs">NFC</text>
<text x="507" y="387" textLength="47" lengthAdjust="spacingAndGlyphs">WLAN</text>
<text x="908" y="463" class="b" textLength="111" lengthAdjust="spacingAndGlyphs" style="fill:#7b2d8e">AUTOMATION</text>
<text x="922" y="479" class="b" textLength="83" lengthAdjust="spacingAndGlyphs" style="fill:#7b2d8e">NETWORK</text>
<text x="170" y="599" textLength="80" lengthAdjust="spacingAndGlyphs">LOGISTICS</text>
<text x="137" y="616" textLength="147" lengthAdjust="spacingAndGlyphs">AND DISTRIBUTION</text>
<text x="478" y="546" textLength="128" lengthAdjust="spacingAndGlyphs">INTRALOGISTICS</text>
<text x="927" y="618" textLength="34" lengthAdjust="spacingAndGlyphs">RFID</text>
<text x="933" y="635" textLength="22" lengthAdjust="spacingAndGlyphs">OR</text>
<text x="901" y="652" textLength="85" lengthAdjust="spacingAndGlyphs">BARCODES</text>
<text x="1107" y="633" textLength="71" lengthAdjust="spacingAndGlyphs">SHIPPING</text>
<text x="1087" y="650" textLength="111" lengthAdjust="spacingAndGlyphs">AND DELIVERY</text>
<text x="1407" y="654" textLength="85" lengthAdjust="spacingAndGlyphs">END USERS</text>
<text x="1110" y="822" textLength="128" lengthAdjust="spacingAndGlyphs">INTRALOGISTICS</text>
<text x="712" y="779" class="b" textLength="76" lengthAdjust="spacingAndGlyphs" style="fill:#e91e3c">FIELDBUS</text>
<text x="546" y="944" class="b" textLength="149" lengthAdjust="spacingAndGlyphs" style="font-size:19px;fill:#666a6c">LOCAL FACILITY</text>
</g>
</svg>
</body></html>
